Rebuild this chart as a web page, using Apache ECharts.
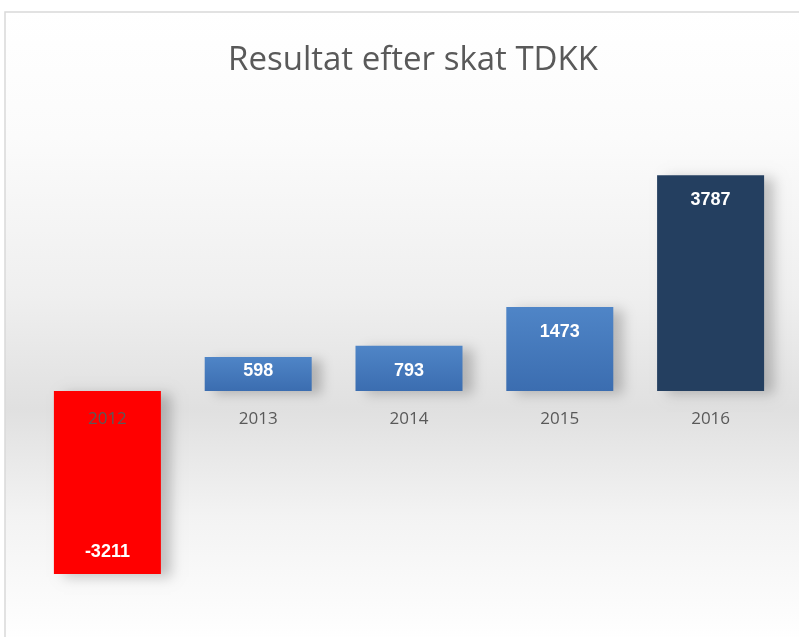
<!DOCTYPE html>
<html>
<head>
<meta charset="utf-8">
<script src="https://cdn.jsdelivr.net/npm/echarts@6/dist/echarts.min.js"></script>
<style>
html,body{margin:0;padding:0;background:#fff;}
#chart{width:799px;height:637px;}
</style>
</head>
<body>
<div id="chart"></div>
<script>
const titleText = 'Resultat efter skat TDKK';
const categories = ['2012', '2013', '2014', '2015', '2016'];
const values = [-3211, 598, 793, 1473, 3787];
const barKinds = ['red', 'blue', 'blue', 'blue', 'navy'];

const fills = {
  red: '#ff0000',
  blue: {type: 'linear', x: 0, y: 0, x2: 0, y2: 1, colorStops: [{offset: 0, color: '#4f85c7'}, {offset: 1, color: '#3b6db0'}]},
  navy: '#243f60'
};

const yMin = -4000, yMax = 4000;
const gridTop = 163, gridHeight = 456;
// place category axis at the zero line of the value axis
const zeroOffset = -gridHeight * (0 - yMin) / (yMax - yMin);

const chart = echarts.init(document.getElementById('chart'));
chart.setOption({
  animation: false,
  backgroundColor: '#ffffff',
  graphic: [{
    type: 'rect', z: -10, silent: true,
    shape: {x: 5, y: 12, width: 800, height: 630},
    style: {
      fill: {type: 'linear', x: 0, y: 0, x2: 0, y2: 1, colorStops: [
        {offset: 0, color: '#ffffff'},
        {offset: 0.2, color: '#fbfbfb'},
        {offset: 0.45, color: '#efefef'},
        {offset: 0.63, color: '#e0e0e0'},
        {offset: 0.8, color: '#f3f3f3'},
        {offset: 1, color: '#ffffff'}
      ]},
      stroke: '#d9d9d9', lineWidth: 1.5
    }
  }],
  title: {
    text: titleText,
    left: 408, top: 39, textAlign: 'center',
    textStyle: {fontFamily: 'Open Sans', fontSize: 33, fontWeight: 'normal', color: '#595959'}
  },
  grid: {left: 32, top: gridTop, width: 754, height: gridHeight, outerBoundsMode: 'none', containLabel: false},
  xAxis: {
    type: 'category', data: categories, z: 10, position: 'bottom', offset: zeroOffset,
    axisLine: {show: false, onZero: false},
    axisTick: {show: false},
    axisLabel: {margin: 20, fontFamily: 'Open Sans', fontSize: 17, color: '#595959'}
  },
  yAxis: {
    type: 'value', min: yMin, max: yMax, interval: 1000,
    axisLine: {show: false}, axisTick: {show: false}, axisLabel: {show: false},
    splitLine: {show: false}
  },
  series: [{
    type: 'bar', barWidth: 107,
    data: values.map((v, i) => ({
      value: v,
      itemStyle: {color: fills[barKinds[i]]},
      label: {
        position: v < 0 ? 'insideBottom' : 'insideTop',
        distance: Math.abs(v) < 700 ? 5 : (v < 0 ? 13 : 16)
      }
    })),
    itemStyle: {shadowColor: 'rgba(0,0,0,0.22)', shadowBlur: 12, shadowOffsetX: 10, shadowOffsetY: 3},
    label: {
      show: true, color: '#ffffff',
      fontFamily: 'Liberation Sans', fontWeight: 'bold', fontSize: 18
    }
  }]
});
</script>
</body>
</html>
